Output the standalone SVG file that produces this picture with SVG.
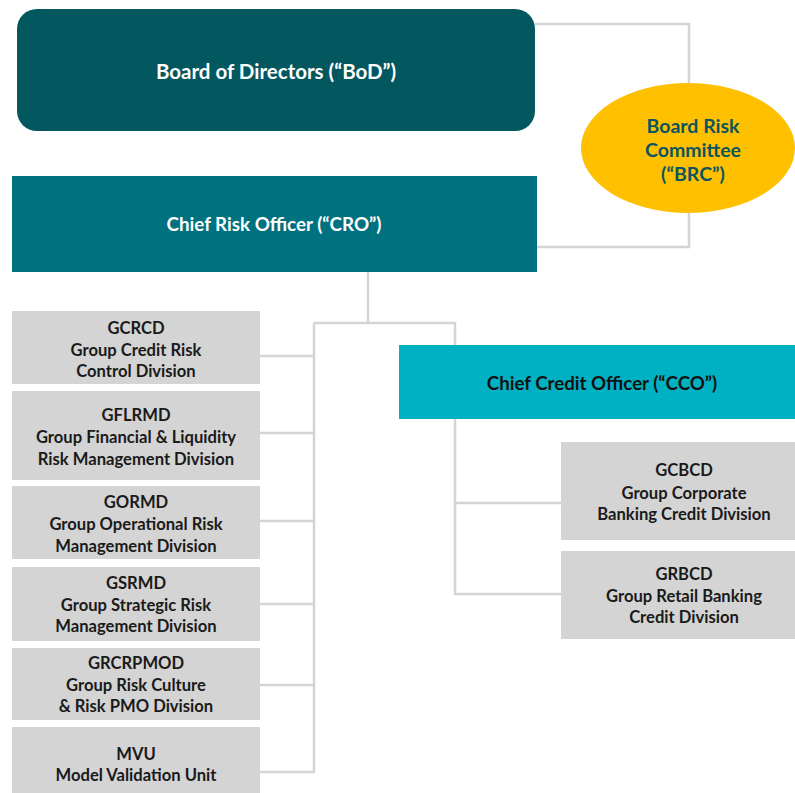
<svg xmlns="http://www.w3.org/2000/svg" width="795" height="793" viewBox="0 0 795 793">
<style>
.ln{fill:none;stroke:#D4D4D4;stroke-width:2.5}
.gb{fill:#D4D4D4}
.gt{font-family:Lato,"Liberation Sans",sans-serif;font-weight:bold;font-size:16.6px;fill:#1A1A1A;text-anchor:middle}
.wt{font-family:Lato,"Liberation Sans",sans-serif;font-weight:bold;fill:#FFFFFF;text-anchor:middle}
.bt{font-family:Lato,"Liberation Sans",sans-serif;font-weight:bold;font-size:19.5px;fill:#0B5560;text-anchor:middle}
</style>
<rect width="795" height="793" fill="#FFFFFF"/>
<g id="connectors">
<polyline class="ln" points="535,24 689,24 689,84"/>
<polyline class="ln" points="689,212 689,247 537,247"/>
<polyline class="ln" points="368,272 368,323"/>
<polyline class="ln" points="314,323 455,323 455,345"/>
<polyline class="ln" points="314,323 314,772"/>
<line class="ln" x1="260" y1="356" x2="314" y2="356"/>
<line class="ln" x1="260" y1="433" x2="314" y2="433"/>
<line class="ln" x1="260" y1="521" x2="314" y2="521"/>
<line class="ln" x1="260" y1="604" x2="314" y2="604"/>
<line class="ln" x1="260" y1="685" x2="314" y2="685"/>
<line class="ln" x1="260" y1="772" x2="315" y2="772"/>
<polyline class="ln" points="455,419 455,594 561,594"/>
<line class="ln" x1="455" y1="503" x2="561" y2="503"/>
</g>
<g id="bod">
<rect x="17" y="9" width="518" height="122" rx="20" fill="#03575F"/>
<text class="wt" x="276" y="79" font-size="20.5">Board of Directors (“BoD”)</text>
</g>
<g id="brc">
<ellipse cx="688" cy="148" rx="107" ry="65" fill="#FFC000"/>
<text class="bt" x="693" y="133">Board Risk</text>
<text class="bt" x="693" y="157">Committee</text>
<text class="bt" x="693" y="181">(“BRC”)</text>
</g>
<g id="cro">
<rect x="12" y="176" width="525" height="96" fill="#00717F"/>
<text class="wt" x="274" y="230.5" font-size="18.8">Chief Risk Officer (“CRO”)</text>
</g>
<g id="cco">
<rect x="399" y="345" width="396" height="74" fill="#00B1C4"/>
<text x="602" y="390" font-family="Lato,'Liberation Sans',sans-serif" font-weight="bold" font-size="18.7" fill="#111111" text-anchor="middle">Chief Credit Officer (“CCO”)</text>
</g>
<g id="gcrcd">
<rect class="gb" x="12" y="311" width="248" height="73"/>
<text class="gt" x="136" y="334">GCRCD</text>
<text class="gt" x="136" y="355.5">Group Credit Risk</text>
<text class="gt" x="136" y="377">Control Division</text>
</g>
<g id="gflrmd">
<rect class="gb" x="12" y="391" width="248" height="89"/>
<text class="gt" x="136" y="421">GFLRMD</text>
<text class="gt" x="136" y="443">Group Financial &amp; Liquidity</text>
<text class="gt" x="136" y="464.5">Risk Management Division</text>
</g>
<g id="gormd">
<rect class="gb" x="12" y="486" width="248" height="73"/>
<text class="gt" x="136" y="508">GORMD</text>
<text class="gt" x="136" y="529.5">Group Operational Risk</text>
<text class="gt" x="136" y="551.5">Management Division</text>
</g>
<g id="gsrmd">
<rect class="gb" x="12" y="567" width="248" height="74"/>
<text class="gt" x="136" y="589">GSRMD</text>
<text class="gt" x="136" y="610.5">Group Strategic Risk</text>
<text class="gt" x="136" y="632">Management Division</text>
</g>
<g id="grcrpmod">
<rect class="gb" x="12" y="648" width="248" height="72"/>
<text class="gt" x="136" y="669">GRCRPMOD</text>
<text class="gt" x="136" y="690.5">Group Risk Culture</text>
<text class="gt" x="136" y="711.5">&amp; Risk PMO Division</text>
</g>
<g id="mvu">
<rect class="gb" x="12" y="727" width="248" height="70"/>
<text class="gt" x="136" y="759.5">MVU</text>
<text class="gt" x="136" y="781">Model Validation Unit</text>
</g>
<g id="gcbcd">
<rect class="gb" x="561" y="442" width="240" height="98"/>
<text class="gt" x="684" y="476">GCBCD</text>
<text class="gt" x="684" y="498.5">Group Corporate</text>
<text class="gt" x="684" y="519.5">Banking Credit Division</text>
</g>
<g id="grbcd">
<rect class="gb" x="561" y="551" width="240" height="88"/>
<text class="gt" x="684" y="579.5">GRBCD</text>
<text class="gt" x="684" y="602">Group Retail Banking</text>
<text class="gt" x="684" y="623">Credit Division</text>
</g>
</svg>
